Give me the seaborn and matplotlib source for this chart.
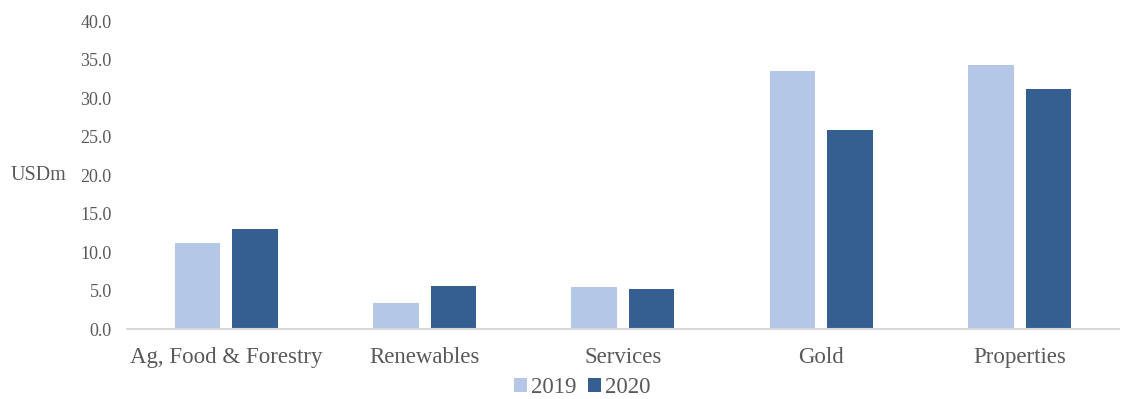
import pandas as pd
import matplotlib.pyplot as plt
import seaborn as sns

categories = ["Ag, Food & Forestry", "Renewables", "Services", "Gold", "Properties"]
years = ["2019", "2020"]
values_2019 = [11.2, 3.4, 5.45, 33.5, 34.3]
values_2020 = [13.0, 5.6, 5.2, 25.8, 31.2]

df = pd.DataFrame({
    "Sector": categories * 2,
    "Year": [years[0]] * len(categories) + [years[1]] * len(categories),
    "Value": values_2019 + values_2020,
})

sns.set_style("white")
plt.rcParams['font.family'] = ['Liberation Serif', 'DejaVu Serif']
text_col = "#595959"

fig = plt.figure(figsize=(11.29, 3.99), dpi=100)
ax = fig.add_axes([0.1125, 0.1754, 0.8785, 0.7716])

sns.barplot(data=df, x="Sector", y="Value", hue="Year",
            palette=["#b4c7e7", "#355f91"], saturation=1, width=0.58, gap=0.21,
            edgecolor="none", ax=ax)

ax.set_ylim(0, 40)
ax.set_yticks(range(0, 41, 5))
ax.set_yticklabels([f"{v:.1f}" for v in range(0, 41, 5)])
ax.set_xlim(-0.5, len(categories) - 0.5)
ax.tick_params(axis='y', labelsize=13, colors=text_col, length=0, pad=11)
ax.tick_params(axis='x', labelsize=16.5, colors=text_col, length=0, pad=13)
ax.set_xlabel("")
ax.set_ylabel("USDm", fontsize=14.5, color=text_col, rotation=0, va="center", ha="left")
ax.yaxis.set_label_coords(-0.117, 0.5)

for s in ["top", "right", "left"]:
    ax.spines[s].set_visible(False)
ax.spines["bottom"].set_color("#d9d9d9")
ax.spines["bottom"].set_linewidth(1.5)

ax.legend(loc="center", bbox_to_anchor=(0.459, -0.19), ncol=2, frameon=False,
          fontsize=16.5, handlelength=0.57, handleheight=0.57, handletextpad=0.17,
          columnspacing=0.48, labelcolor=text_col, borderpad=0)

fig.savefig("out.png", dpi=100)
